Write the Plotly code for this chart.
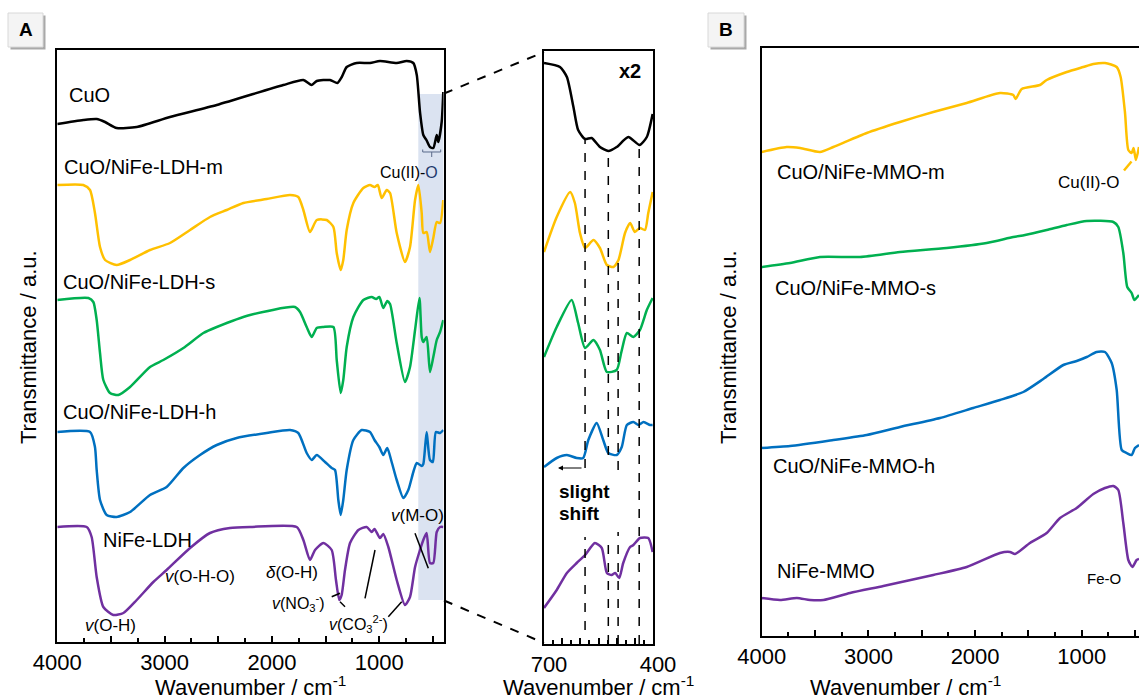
import plotly.graph_objects as go

# ---------------- data ----------------
# Panel A: wavenumber (cm-1) and offset transmittance (a.u.)
cuo_a_wn = [4000, 3758, 3633, 3555, 3447, 3260, 2950, 2514, 1894, 1707, 1629, 1582, 1458, 1390, 1349, 1303,
            1210, 1086, 993, 837, 744, 682, 650, 620, 589, 560, 527, 496, 464, 449, 418, 403]
cuo_a_t = [518, 522, 523, 520, 514, 515, 525, 537, 557, 562, 557, 561, 562, 559, 565, 575,
           579, 579, 581, 579, 581, 579, 567, 530, 507, 502, 495, 494, 507, 500, 520, 550]

ldh_m_wn = [4000, 3758, 3695, 3649, 3602, 3555, 3447, 3322, 3136, 2950, 2763, 2577, 2421, 2266, 2049, 1831, 1754,
            1707, 1645, 1582, 1489, 1427, 1396, 1359, 1335, 1303, 1241, 1148, 1086, 1044, 1013, 977, 930, 899,
            837, 760, 713, 666, 635, 604, 589, 558, 527, 496, 464, 433, 403]
ldh_m_t = [457, 457, 452, 429, 395, 382, 377, 382, 392, 399, 412, 425, 432, 439, 443, 447, 445,
           432, 410, 422, 422, 415, 389, 372, 382, 412, 439, 454, 457, 455, 457, 444, 452, 449,
           409, 380, 395, 442, 457, 429, 409, 410, 390, 404, 420, 419, 442]

ldh_s_wn = [4000, 3710, 3664, 3633, 3602, 3571, 3509, 3431, 3322, 3136, 3012, 2825, 2639, 2514, 2204, 1785, 1738,
            1676, 1629, 1582, 1520, 1427, 1396, 1359, 1335, 1303, 1241, 1148, 1070, 1029, 999, 962, 925, 899,
            837, 760, 713, 666, 625, 604, 589, 558, 527, 496, 464, 433, 403]
ldh_s_t = [342, 344, 340, 322, 289, 262, 249, 247, 255, 275, 282, 294, 309, 315, 327, 335, 330,
           315, 305, 314, 315, 315, 282, 249, 262, 295, 325, 342, 345, 343, 345, 334, 341, 338,
           299, 260, 275, 312, 344, 305, 300, 305, 270, 285, 302, 310, 322]

ldh_h_wn = [4000, 3695, 3649, 3633, 3602, 3540, 3447, 3322, 3136, 2981, 2825, 2670, 2514, 2328, 2049, 1831, 1754,
            1676, 1629, 1582, 1505, 1443, 1412, 1381, 1359, 1335, 1303, 1241, 1163, 1086, 1044, 999, 962, 925,
            884, 837, 775, 729, 682, 650, 604, 589, 558, 527, 500, 472, 433, 403]
ldh_h_t = [210, 210, 195, 172, 142, 127, 125, 130, 147, 155, 174, 187, 197, 204, 209, 212, 209,
           189, 182, 187, 180, 174, 172, 142, 127, 142, 172, 202, 212, 210, 202, 195, 187, 194,
           180, 162, 144, 152, 170, 179, 176, 178, 210, 182, 180, 210, 209, 212]

ldh_wn = [4000, 3726, 3680, 3633, 3571, 3478, 3384, 3260, 3105, 2981, 2763, 2577, 2391, 2204, 1769, 1707, 1645,
          1598, 1521, 1443, 1403, 1372, 1350, 1319, 1272, 1194, 1117, 1070, 1044, 993, 962, 915, 837, 760, 713,
          666, 620, 589, 558, 527, 496, 464, 433, 403]
ldh_t = [115, 115, 105, 65, 35, 27, 29, 42, 60, 72, 94, 109, 114, 115, 115, 102, 82,
         92, 99, 92, 62, 42, 47, 72, 99, 112, 115, 110, 113, 104, 108, 95, 62, 37, 45,
         75, 92, 102, 109, 79, 79, 110, 115, 115]

# Inset (x2): 700-400 cm-1
cuo_in_wn = [700, 656, 637, 619, 606, 587, 569, 546, 523, 500, 468, 437, 417, 401]
cuo_in_t = [581, 577, 567, 537, 514, 505, 506, 497, 493, 497, 507, 499, 507, 530]
m_in_wn = [700, 665, 628, 615, 601, 587, 564, 546, 527, 509, 495, 477, 463, 450, 436, 422, 413, 401]
m_in_t = [392, 427, 452, 441, 411, 396, 404, 396, 379, 377, 384, 411, 421, 412, 416, 414, 431, 452]
s_in_wn = [700, 665, 624, 606, 587, 564, 546, 527, 500, 487, 472, 454, 436, 417, 401]
s_in_t = [287, 317, 344, 321, 296, 304, 294, 272, 274, 292, 311, 307, 314, 334, 346]
h_in_wn = [700, 665, 637, 610, 592, 578, 555, 537, 523, 500, 486, 472, 454, 440, 426, 408, 401]
h_in_t = [177, 186, 189, 186, 186, 204, 221, 204, 191, 189, 197, 219, 222, 219, 222, 219, 219]
l_in_wn = [700, 665, 637, 610, 587, 560, 541, 527, 514, 504, 493, 482, 463, 454, 436, 413, 401]
l_in_t = [36, 54, 71, 81, 89, 101, 96, 71, 69, 71, 66, 81, 97, 99, 106, 106, 92]

inset_peaks = [587, 523, 496, 438]
inset_peak_segments = [[(504, 176), (107, 14)], [(492, 189), (107, 0)], [(382, 174), (112, 0)], [(499, 0)]]

# Panel B
mmo_m_wn = [4000, 3766, 3640, 3454, 3329, 3016, 2704, 2392, 2079, 1767, 1642, 1620, 1563, 1392, 1329, 1141,
            986, 892, 783, 673, 636, 595, 564, 533, 515, 493, 464]
mmo_m_t = [484, 489, 488, 484, 489, 503, 514, 524, 533, 543, 541, 537, 547, 551, 556, 564,
           569, 572, 573, 569, 559, 523, 486, 483, 488, 476, 489]
mmo_s_wn = [4000, 3734, 3454, 3079, 2704, 2266, 1892, 1642, 1532, 1329, 1141, 954, 704, 658, 611, 574, 533,
            508, 464]
mmo_s_t = [369, 373, 379, 379, 384, 388, 393, 399, 401, 406, 411, 415, 414, 409, 383, 349, 343, 336, 341]
mmo_h_wn = [4000, 3734, 3329, 3016, 2704, 2329, 2017, 1767, 1548, 1361, 1173, 1048, 954, 861, 783, 720, 673,
            626, 580, 533, 502, 464]
mmo_h_t = [188, 190, 196, 201, 209, 218, 228, 236, 244, 257, 271, 275, 279, 284, 284, 273, 246,
           186, 183, 181, 188, 191]
mmo_wn = [4000, 3828, 3671, 3547, 3422, 3172, 2860, 2392, 2079, 1767, 1673, 1626, 1486, 1329, 1204, 1048, 892,
          783, 704, 658, 611, 564, 526, 486, 464]
mmo_t = [38, 36, 38, 36, 36, 43, 50, 61, 69, 83, 84, 82, 93, 103, 118, 128, 142,
         148, 150, 146, 113, 76, 69, 76, 77]

tick_vals_main = [4000, 3500, 3000, 2500, 2000, 1500, 1000, 500]
tick_text_main = ["4000", "", "3000", "", "2000", "", "1000", ""]
minor_main = [3750, 3250, 2750, 2250, 1750, 1250, 750]

# ---------------- styling ----------------
W, H = 1139, 700
FONT = "Liberation Sans, Arial, sans-serif"
BLACK, GOLD, GREEN, BLUE, PURPLE = "#000000", "#FFC000", "#00B050", "#0070C0", "#7030A0"


def X(px):
    return px / W


def Y(py):
    return 1 - py / H


fig = go.Figure()


def add(x, y, color, ax, width=2.5):
    fig.add_trace(go.Scatter(x=x, y=y, mode="lines", xaxis=ax[0], yaxis=ax[1], hoverinfo="skip",
                             showlegend=False,
                             line=dict(color=color, width=width, shape="spline", smoothing=0.6)))


for xs, ys, c in [(cuo_a_wn, cuo_a_t, BLACK), (ldh_m_wn, ldh_m_t, GOLD), (ldh_s_wn, ldh_s_t, GREEN),
                  (ldh_h_wn, ldh_h_t, BLUE), (ldh_wn, ldh_t, PURPLE)]:
    add(xs, ys, c, ("x", "y"))
for xs, ys, c in [(cuo_in_wn, cuo_in_t, BLACK), (m_in_wn, m_in_t, GOLD), (s_in_wn, s_in_t, GREEN),
                  (h_in_wn, h_in_t, BLUE), (l_in_wn, l_in_t, PURPLE)]:
    add(xs, ys, c, ("x2", "y2"))
for xs, ys, c in [(mmo_m_wn, mmo_m_t, GOLD), (mmo_s_wn, mmo_s_t, GREEN), (mmo_h_wn, mmo_h_t, BLUE),
                  (mmo_wn, mmo_t, PURPLE)]:
    add(xs, ys, c, ("x3", "y3"))

axis_common = dict(showgrid=False, zeroline=False, showline=True, linecolor="black", linewidth=2,
                   automargin=False)
xtick_common = dict(ticks="inside", ticklen=6, tickwidth=1.5, tickcolor="black",
                    tickfont=dict(family=FONT, size=22, color="black"))

fig.update_layout(
    width=W, height=H, margin=dict(l=0, r=0, t=0, b=0, autoexpand=False),
    paper_bgcolor="white", plot_bgcolor="white",
    xaxis=dict(domain=[X(57.3), X(443.6)], range=[4000, 400], anchor="y", mirror=True,
               tickvals=tick_vals_main, ticktext=tick_text_main,
               minor=dict(tickvals=minor_main, ticks="inside", ticklen=4, tickcolor="black"),
               **axis_common, **xtick_common),
    yaxis=dict(domain=[Y(642), Y(50)], range=[0, 592], anchor="x", mirror=True,
               showticklabels=False, ticks="", **axis_common),
    xaxis2=dict(domain=[X(544), X(653)], range=[700, 400], anchor="y2", mirror=True,
                tickvals=[700, 650, 600, 550, 500, 450, 400], ticktext=["700", "", "", "", "", "", "400"],
                minor=dict(dtick=25, tick0=400, ticks="inside", ticklen=4, tickcolor="black"),
                ticklabelshift=-5, **axis_common, **xtick_common),
    yaxis2=dict(domain=[Y(644), Y(51)], range=[0, 593], anchor="x2", mirror=True,
                showticklabels=False, ticks="", **axis_common),
    xaxis3=dict(domain=[X(761.7), 1.0], range=[4000, 464], anchor="y3", mirror=True,
                tickvals=tick_vals_main, ticktext=tick_text_main,
                minor=dict(tickvals=minor_main, ticks="inside", ticklen=4, tickcolor="black"),
                **axis_common, **xtick_common),
    yaxis3=dict(domain=[Y(636), Y(47.7)], range=[0, 588.3], anchor="x3", mirror=False,
                showticklabels=False, ticks="", **axis_common),
)

shapes = []
# shaded region in panel A
shapes.append(dict(type="rect", xref="x", yref="y", x0=636, x1=400, y0=42, y1=548,
                   fillcolor="#dbe3f1", line=dict(width=0), layer="below"))
# connector dashed lines
shapes.append(dict(type="line", xref="paper", yref="paper", x0=X(444), y0=Y(93.5), x1=X(544), y1=Y(52),
                   line=dict(color="black", width=2, dash="dash")))
shapes.append(dict(type="line", xref="paper", yref="paper", x0=X(444), y0=Y(600.5), x1=X(544), y1=Y(643),
                   line=dict(color="black", width=2, dash="dash")))
# inset vertical dashed peak lines
for wn, segs in zip(inset_peaks, inset_peak_segments):
    for seg in segs:
        top = seg[0]
        bot = seg[1] if len(seg) > 1 else 0
        shapes.append(dict(type="line", xref="x2", yref="y2", x0=wn, x1=wn, y0=bot, y1=top,
                           line=dict(color="black", width=1.5, dash="dash")))


def pline(pts, color="black", width=1.5, dash="solid"):
    d = "M " + " L ".join(f"{X(a):.5f},{Y(b):.5f}" for a, b in pts)
    return dict(type="path", xref="paper", yref="paper", path=d, line=dict(color=color, width=width, dash=dash))


# leader lines for band assignments
shapes.append(pline([(331.7, 596.7), (340, 593.3)]))
shapes.append(pline([(340, 601.7), (345, 606.7)]))
shapes.append(pline([(365, 598.3), (375, 550)]))
shapes.append(pline([(388.3, 616.7), (401.7, 601.7)]))
shapes.append(pline([(415, 533.3), (428.3, 568.3)]))
# Cu(II)-O bracket in A
shapes.append(pline([(422.7, 149.5), (422.7, 152), (440.7, 152), (440.7, 149.5)], color="#5a6a8a", width=1))
shapes.append(pline([(431.7, 152), (431.7, 157)], color="#5a6a8a", width=1))
# Cu(II)-O leader in B
shapes.append(pline([(1124, 170.5), (1131.5, 161.5)], color=GOLD, width=2.5))

# panel letter boxes
for (x0, y0, x1, y1) in [(8, 13, 43, 47), (708, 13, 744, 47)]:
    shapes.append(dict(type="rect", xref="paper", yref="paper", x0=X(x0 + 2.5), x1=X(x1 + 2.5),
                       y0=Y(y1 + 2.5), y1=Y(y0 + 2.5), fillcolor="#a9a9a9", line=dict(width=0)))
    shapes.append(dict(type="rect", xref="paper", yref="paper", x0=X(x0), x1=X(x1), y0=Y(y1), y1=Y(y0),
                       fillcolor="#f4f4f4", line=dict(color="#d8d8d8", width=1)))

fig.update_layout(shapes=shapes)

ann = []


def text(px, py, s, size=20, xanchor="center", bold=False, color="black", angle=0):
    ann.append(dict(x=X(px), y=Y(py), xref="paper", yref="paper", text=s, showarrow=False,
                    xanchor=xanchor, yanchor="middle", textangle=angle,
                    font=dict(family=FONT, size=size, color=color)))


text(26, 30, "<b>A</b>", size=19)
text(726, 30, "<b>B</b>", size=19)

# panel A labels
text(67, 95, "CuO", xanchor="left")
text(62, 167, "CuO/NiFe-LDH-m", xanchor="left")
text(61, 282, "CuO/NiFe-LDH-s", xanchor="left")
text(61, 412, "CuO/NiFe-LDH-h", xanchor="left")
text(101, 540, "NiFe-LDH", xanchor="left")
text(409, 172, "Cu(II)-<span style='color:#1f3a6e'>O</span>", size=16)
text(110, 625, "<i>v</i>(O-H)", size=17)
text(200, 576, "<i>v</i>(O-H-O)", size=17)
text(292, 572, "<i>δ</i>(O-H)", size=17)
text(298, 603, "<i>v</i>(NO<sub>3</sub><sup>-</sup>)", size=16)
text(358, 624, "<i>v</i>(CO<sub>3</sub><sup>2-</sup>)", size=16)
text(417, 515, "<i>v</i>(M-O)", size=17)

# inset labels
text(630, 71, "<b>x2</b>", size=20)
text(557, 491, "<b>slight</b>", size=19, xanchor="left")
text(557, 513, "<b>shift</b>", size=19, xanchor="left")
ann.append(dict(x=X(558), y=Y(468), xref="paper", yref="paper", ax=25, ay=0, showarrow=True,
                arrowhead=2, arrowsize=1, arrowwidth=1, arrowcolor="black", text=""))

# panel B labels
text(775, 172, "CuO/NiFe-MMO-m", xanchor="left")
text(773, 288, "CuO/NiFe-MMO-s", xanchor="left")
text(771, 466, "CuO/NiFe-MMO-h", xanchor="left")
text(775, 571, "NiFe-MMO", xanchor="left")
text(1088, 182, "Cu(II)-O", size=17)
text(1104, 578, "Fe-O", size=15)

# axis titles
for cx in [250, 598, 905]:
    text(cx, 686, "Wavenumber / cm<sup>-1</sup>", size=22)
text(28, 347, "Transmittance / a.u.", size=22, angle=-90)
text(728, 347, "Transmittance / a.u.", size=22, angle=-90)

fig.update_layout(annotations=ann)
fig.write_html("out.html")
